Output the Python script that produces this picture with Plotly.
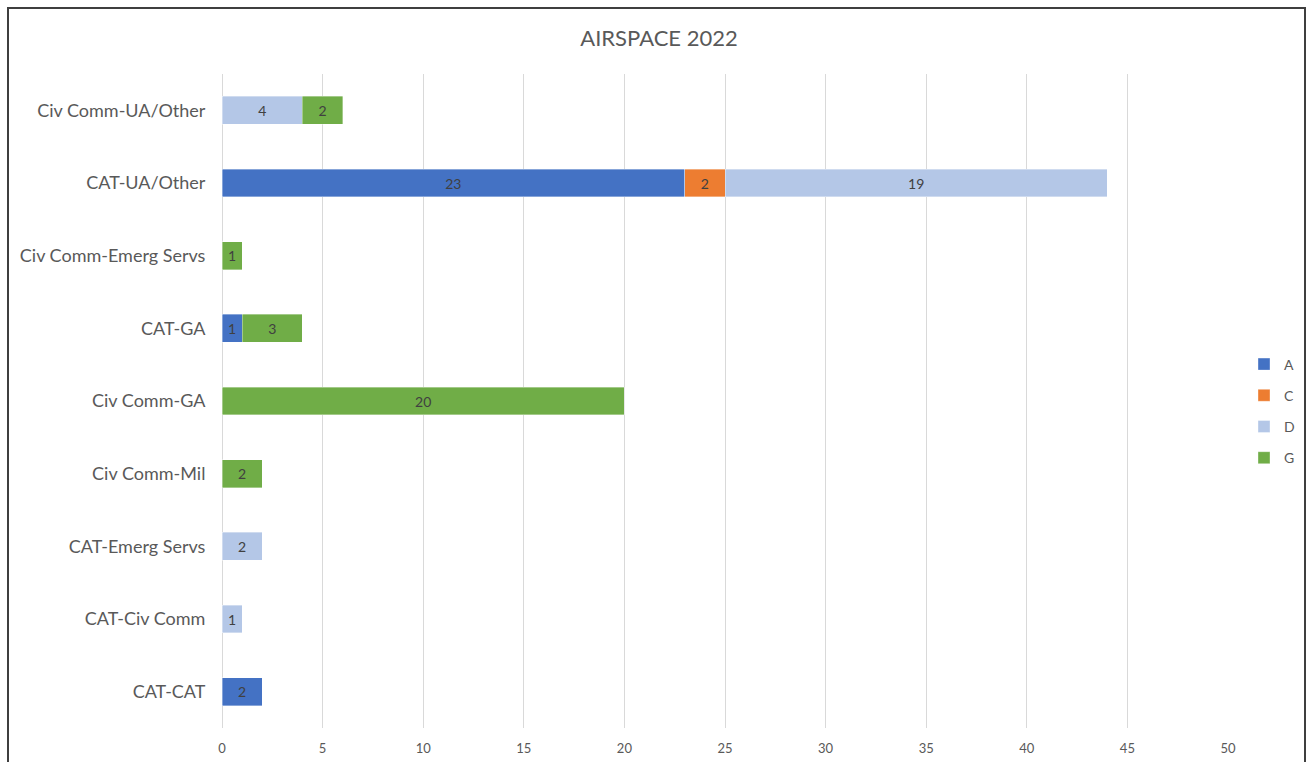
import plotly.graph_objects as go

# Categories listed bottom-to-top as they appear on the y axis
categories = [
    "CAT-CAT",
    "CAT-Civ Comm",
    "CAT-Emerg Servs",
    "Civ Comm-Mil",
    "Civ Comm-GA",
    "CAT-GA",
    "Civ Comm-Emerg Servs",
    "CAT-UA/Other",
    "Civ Comm-UA/Other",
]

series_names = ["A", "C", "D", "G"]
values_a = [2, None, None, None, None, 1, None, 23, None]
values_c = [None, None, None, None, None, None, None, 2, None]
values_d = [None, 1, 2, None, None, None, None, 19, 4]
values_g = [None, None, None, 2, 20, 3, 1, None, 2]

colors = ["#4472C4", "#ED7D31", "#B4C7E7", "#70AD47"]
x_ticks = [0, 5, 10, 15, 20, 25, 30, 35, 40, 45, 50]

W, H = 1307, 762
ML, MR, MT, MB = 222, 79, 74, 34
PW, PH = W - ML - MR, H - MT - MB

FONT = "Lato, 'Open Sans', sans-serif"
TXT = "#595959"

fig = go.Figure()
for name, vals, col in zip(series_names, [values_a, values_c, values_d, values_g], colors):
    fig.add_trace(go.Bar(
        name=name,
        legendgroup=name,
        y=categories,
        x=vals,
        orientation="h",
        marker=dict(color=col, line=dict(color="rgba(255,255,255,0.6)", width=0.6)),
        text=[("" if v is None else str(v)) for v in vals],
        textposition="inside",
        insidetextanchor="middle",
        textangle=0,
        textfont=dict(family=FONT, size=14, color="#404040"),
        cliponaxis=False,
    ))

# paper-coordinate helpers for the outer chart border
def px_x(p):
    return (p - ML) / PW

def px_y(p):
    return 1 - (p - MT) / PH

fig.add_shape(
    type="rect", xref="paper", yref="paper",
    x0=px_x(8), x1=px_x(1305), y0=px_y(790), y1=px_y(8),
    line=dict(color="#3f3f3f", width=2), fillcolor="rgba(0,0,0,0)",
    layer="above",
)

fig.update_layout(
    width=W, height=H,
    margin=dict(l=ML, r=MR, t=MT, b=MB, autoexpand=False),
    paper_bgcolor="white", plot_bgcolor="white",
    barmode="stack",
    bargap=0.615,
    uniformtext=dict(minsize=8, mode="show"),
    title=dict(
        text="AIRSPACE 2022", x=659 / W, xanchor="center",
        y=1 - 38 / H, yanchor="middle",
        font=dict(family=FONT, size=22, color=TXT),
    ),
    font=dict(family=FONT, color=TXT),
    legend=dict(
        x=px_x(1244), xanchor="left", y=px_y(411), yanchor="middle",
        traceorder="grouped",
        font=dict(family=FONT, size=14, color=TXT),
        itemwidth=30, tracegroupgap=10,
        bgcolor="rgba(0,0,0,0)",
    ),
    xaxis=dict(
        range=[0, 50], tickvals=x_ticks,
        showgrid=True, gridcolor="#d9d9d9", gridwidth=1,
        zeroline=True, zerolinecolor="#d9d9d9", zerolinewidth=1,
        showline=False,
        ticks="outside", ticklen=8, tickcolor="rgba(0,0,0,0)",
        tickfont=dict(family=FONT, size=13, color=TXT),
        fixedrange=True,
    ),
    yaxis=dict(
        categoryorder="array", categoryarray=categories,
        showgrid=False, zeroline=False, showline=False,
        ticks="outside", ticklen=12, tickcolor="rgba(0,0,0,0)",
        tickfont=dict(family=FONT, size=18, color=TXT),
        fixedrange=True,
    ),
)

fig.write_html("out.html")
